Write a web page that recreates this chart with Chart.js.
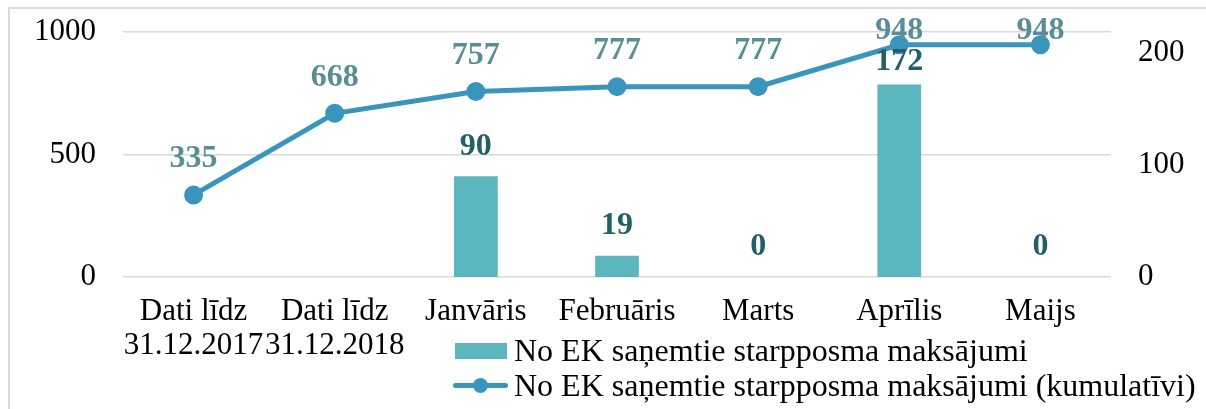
<!DOCTYPE html>
<html>
<head>
<meta charset="utf-8">
<script src="https://cdn.jsdelivr.net/npm/chart.js@4"></script>
<style>
  html, body { margin: 0; padding: 0; background: #fff; overflow: hidden; }
  #wrap { position: relative; width: 1206px; height: 409px; }
  #frame { position: absolute; left: 8px; top: 7px; width: 1300px; height: 500px; border: 2px solid #d9d9d9; }
  canvas { position: absolute; left: 0; top: 0; }
  #legend { position: absolute; left: 453px; top: 333px; font: 32px "Liberation Serif", "Times New Roman", serif; color: #000; }
  .row { display: flex; align-items: center; height: 35px; white-space: nowrap; }
  .box { width: 52px; height: 16px; background: #5bb6c0; margin-right: 7px; margin-left: 2px; }
  .ln { position: relative; width: 55px; height: 5px; background: #3a95bc; border-radius: 3px; margin-right: 6px; }
  .ln span { position: absolute; left: 20px; top: -5px; width: 15px; height: 15px; border-radius: 50%; background: #3a95bc; }
</style>
</head>
<body>
<div id="wrap">
  <div id="frame"></div>
  <canvas id="c" width="1206" height="409"></canvas>
  <div id="legend">
    <div class="row"><div class="box"></div>No EK saņemtie starpposma maksājumi</div>
    <div class="row"><div class="ln"><span></span></div>No EK saņemtie starpposma maksājumi (kumulatīvi)</div>
  </div>
</div>
<script>
const categories = [['Dati līdz', '31.12.2017'], ['Dati līdz', '31.12.2018'], 'Janvāris', 'Februāris', 'Marts', 'Aprīlis', 'Maijs'];
const payments = [null, null, 90, 19, 0, 172, 0];
const cumulative = [335, 668, 757, 777, 777, 948, 948];
const leftTicks = [0, 500, 1000];
const rightTicks = [0, 100, 200];

const serif = '"Liberation Serif", "Times New Roman", serif';

// draws the value above each point / bar
const valueLabels = {
    id: 'valueLabels',
    afterDatasetsDraw(chart) {
        const ctx = chart.ctx;
        ctx.save();
        ctx.font = 'bold 32px ' + serif;
        ctx.textAlign = 'center';
        ctx.textBaseline = 'middle';
        chart.data.datasets.forEach((ds, i) => {
            const meta = chart.getDatasetMeta(i);
            meta.data.forEach((el, j) => {
                const v = ds.data[j];
                if (v === null || v === undefined) return;
                // labels are kept from going too high (like excel does)
                const y = Math.max(el.y - ds.labelOffset, ds.labelMinY);
                ctx.fillStyle = ds.labelColor;
                ctx.fillText(String(v), el.x, y);
            });
        });
        ctx.restore();
    }
};

// fixed axis sizes so the plot area sits where it does in the picture
function fixY(width) {
    return function (s) {
        s.width = width;
        s.paddingTop = 0;
        s.paddingBottom = 0;
    };
}

new Chart(document.getElementById('c'), {
    type: 'bar',
    data: {
        labels: categories,
        datasets: [
            {
                type: 'line',
                label: 'No EK saņemtie starpposma maksājumi (kumulatīvi)',
                data: cumulative,
                yAxisID: 'y',
                borderColor: '#3a95bc',
                backgroundColor: '#3a95bc',
                borderWidth: 5,
                pointRadius: 7,
                pointHoverRadius: 7,
                tension: 0,
                labelColor: '#5b8d97',
                labelOffset: 36,
                labelMinY: 31
            },
            {
                type: 'bar',
                label: 'No EK saņemtie starpposma maksājumi',
                data: payments,
                yAxisID: 'y1',
                backgroundColor: '#5bb6c0',
                barPercentage: 0.31,
                categoryPercentage: 1,
                labelColor: '#235f66',
                labelOffset: 30,
                labelMinY: 62
            }
        ]
    },
    options: {
        responsive: false,
        animation: false,
        layout: { padding: { top: 32, left: 0, right: 0, bottom: 0 } },
        plugins: { legend: { display: false }, tooltip: { enabled: false } },
        scales: {
            x: {
                grid: { display: false, drawTicks: false },
                border: { display: false },
                ticks: { color: '#000', font: { family: serif, size: 31, lineHeight: 1.1 }, padding: 18, autoSkip: false, maxRotation: 0 },
                afterFit(s) { s.height = 132; }
            },
            y: {
                position: 'left',
                min: 0, max: 1000,
                grid: { color: '#d9d9d9', lineWidth: 1.5, drawTicks: false },
                border: { display: false },
                ticks: { color: '#000', font: { family: serif, size: 31 }, padding: 27, callback: v => String(v) },
                afterBuildTicks(s) { s.ticks = leftTicks.map(v => ({ value: v })); },
                afterFit: fixY(123)
            },
            y1: {
                position: 'right',
                min: 0, max: 219,
                grid: { display: false, drawTicks: false },
                border: { display: false },
                ticks: { color: '#000', font: { family: serif, size: 31 }, padding: 27, callback: v => String(v) },
                afterBuildTicks(s) { s.ticks = rightTicks.map(v => ({ value: v })); },
                afterFit: fixY(95)
            }
        }
    },
    plugins: [valueLabels]
});
</script>
</body>
</html>
